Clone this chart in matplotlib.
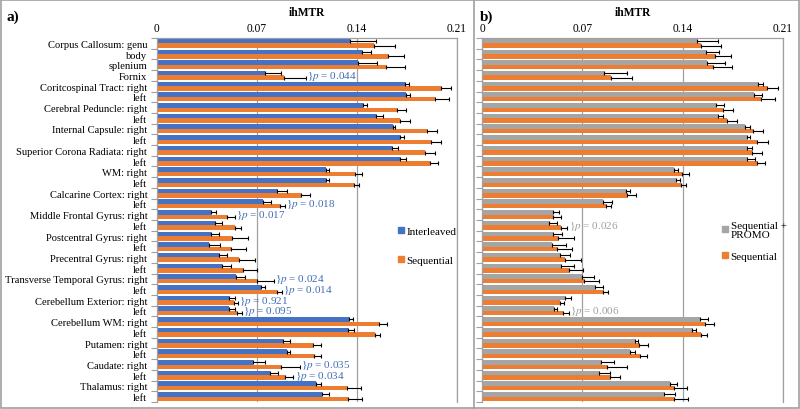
import numpy as np
import matplotlib.pyplot as plt
from matplotlib.patches import Rectangle
from matplotlib.lines import Line2D

plt.rcParams['font.family'] = ['Liberation Serif', 'DejaVu Serif']
plt.rcParams['mathtext.fontset'] = 'stix'

# region labels, top to bottom
regions = [
    'Corpus Callosum: genu', 'body', 'splenium', 'Fornix',
    'Coritcospinal Tract: right', 'left',
    'Cerebral Peduncle: right', 'left',
    'Internal Capsule: right', 'left',
    'Superior Corona Radiata: right', 'left',
    'WM: right', 'left',
    'Calcarine Cortex: right', 'left',
    'Middle Frontal Gyrus: right', 'left',
    'Postcentral Gyrus: right', 'left',
    'Precentral Gyrus: right', 'left',
    'Transverse Temporal Gyrus: right', 'left',
    'Cerebellum Exterior: right', 'left',
    'Cerebellum WM: right', 'left',
    'Putamen: right', 'left',
    'Caudate: right', 'left',
    'Thalamus: right', 'left',
]

# panel a) Interleaved vs Sequential
interleaved = [0.1349, 0.1433, 0.1410, 0.0758, 0.1736, 0.1745, 0.1444, 0.1533,
               0.1654, 0.1699, 0.1647, 0.1699, 0.1185, 0.1185, 0.0842, 0.0742,
               0.0376, 0.0404, 0.0376, 0.0366, 0.0436, 0.0455, 0.0551, 0.0726,
               0.0502, 0.0502, 0.1342, 0.1335, 0.0882, 0.0910, 0.0672, 0.0791,
               0.1113, 0.1153]
interleaved_err = [0.0187, 0.0068, 0.0133, 0.0107, 0.0028, 0.0026, 0.0028, 0.0051,
                   0.0014, 0.0033, 0.0042, 0.0044, 0.0019, 0.0019, 0.0070, 0.0054,
                   0.0040, 0.0051, 0.0058, 0.0075, 0.0051, 0.0065, 0.0068, 0.0030,
                   0.0042, 0.0042, 0.0033, 0.0044, 0.0049, 0.0021, 0.0082, 0.0058,
                   0.0035, 0.0051]
sequential_a = [0.1520, 0.1620, 0.1600, 0.0891, 0.1986, 0.1948, 0.1680, 0.1703,
                0.1892, 0.1916, 0.1878, 0.1913, 0.1388, 0.1379, 0.1010, 0.0859,
                0.0492, 0.0544, 0.0525, 0.0520, 0.0574, 0.0602, 0.0700, 0.0842,
                0.0539, 0.0560, 0.1552, 0.1524, 0.1090, 0.1099, 0.0870, 0.0894,
                0.1332, 0.1335]
sequential_a_err = [0.0145, 0.0112, 0.0135, 0.0149, 0.0075, 0.0093, 0.0065, 0.0070,
                    0.0068, 0.0070, 0.0065, 0.0054, 0.0044, 0.0037, 0.0058, 0.0035,
                    0.0056, 0.0047, 0.0114, 0.0100, 0.0112, 0.0096, 0.0117, 0.0035,
                    0.0028, 0.0035, 0.0061, 0.0037, 0.0056, 0.0047, 0.0131, 0.0061,
                    0.0096, 0.0098]
p_values_a = {3: '0.044', 15: '0.018', 16: '0.017', 22: '0.024', 23: '0.014',
              24: '0.921', 25: '0.095', 30: '0.035', 31: '0.034'}

# panel b) Sequential + PROMO vs Sequential
promo = [0.1500, 0.1563, 0.1573, 0.0849, 0.1927, 0.1899, 0.1636, 0.1647,
         0.1839, 0.1850, 0.1848, 0.1853, 0.1342, 0.1351, 0.1001, 0.0842,
         0.0492, 0.0469, 0.0492, 0.0488, 0.0544, 0.0551, 0.0695, 0.0791,
         0.0576, 0.0502, 0.1524, 0.1468, 0.1064, 0.1034, 0.0833, 0.0817,
         0.1314, 0.1272]
promo_err = [0.0147, 0.0093, 0.0121, 0.0159, 0.0037, 0.0056, 0.0051, 0.0033,
             0.0033, 0.0023, 0.0040, 0.0051, 0.0023, 0.0028, 0.0033, 0.0063,
             0.0042, 0.0051, 0.0068, 0.0096, 0.0070, 0.0093, 0.0089, 0.0056,
             0.0047, 0.0023, 0.0051, 0.0028, 0.0021, 0.0033, 0.0089, 0.0079,
             0.0049, 0.0075]
sequential_b = [0.1530, 0.1624, 0.1610, 0.0898, 0.1993, 0.1951, 0.1685, 0.1708,
                0.1895, 0.1920, 0.1883, 0.1920, 0.1398, 0.1386, 0.1013, 0.0863,
                0.0492, 0.0548, 0.0527, 0.0525, 0.0579, 0.0609, 0.0709, 0.0847,
                0.0544, 0.0567, 0.1556, 0.1528, 0.1094, 0.1104, 0.0875, 0.0894,
                0.1337, 0.1342]
sequential_b_err = [0.0138, 0.0114, 0.0135, 0.0145, 0.0075, 0.0098, 0.0068, 0.0072,
                    0.0070, 0.0075, 0.0070, 0.0056, 0.0047, 0.0035, 0.0061, 0.0040,
                    0.0061, 0.0047, 0.0114, 0.0100, 0.0112, 0.0093, 0.0110, 0.0035,
                    0.0026, 0.0037, 0.0065, 0.0040, 0.0063, 0.0049, 0.0135, 0.0070,
                    0.0093, 0.0098]
p_values_b = {17: '0.026', 25: '0.006'}

x_ticks = [0, 0.07, 0.14, 0.21]
x_tick_labels = ['0', '0.07', '0.14', '0.21']

BLUE = '#4472C4'
ORANGE = '#ED7D31'
GRAY = '#A5A5A5'
LINE = '#A0A0A0'


def draw_panel(ax, top_vals, top_err, bot_vals, bot_err, top_color,
               top_label, bot_label, pvals, pcolor, show_labels, legend_pos,
               legend_spacing):
    n = len(regions)
    y = np.arange(n)
    h = 0.42
    ekw = dict(ecolor='black', elinewidth=0.8, capsize=1.6, capthick=0.8)
    zeros = np.zeros(n)
    ax.barh(y - h / 2, top_vals, height=h, color=top_color,
            xerr=[zeros, top_err], error_kw=ekw, label=top_label, zorder=2)
    ax.barh(y + h / 2, bot_vals, height=h, color=ORANGE,
            xerr=[zeros, bot_err], error_kw=ekw, label=bot_label, zorder=2)

    for i, p in pvals.items():
        xe = max(top_vals[i] + top_err[i], bot_vals[i] + bot_err[i])
        ax.text(xe + 0.0008, i, r'}$\mathit{p}$ = ' + p, color=pcolor,
                fontsize=8, va='center', ha='left')

    ax.set_xlim(0, 0.21)
    ax.set_ylim(n - 0.5, -0.5)
    ax.xaxis.tick_top()
    ax.set_xticks(x_ticks)
    ax.set_xticklabels(x_tick_labels, fontsize=8.3)
    ax.xaxis.set_label_position('top')
    ax.set_xlabel('ihMTR', fontweight='bold', fontsize=8.3, labelpad=5)
    ax.tick_params(axis='x', length=0, pad=3)
    ax.grid(axis='x', color=LINE, linewidth=0.9, zorder=0)

    ax.set_yticks(y)
    if show_labels:
        ax.set_yticklabels(regions, fontsize=7.6)
    else:
        ax.set_yticklabels([])
    ax.set_yticks(np.arange(n + 1) - 0.5, minor=True)
    ax.tick_params(axis='y', which='major', length=0, pad=7)
    ax.tick_params(axis='y', which='minor', length=4, color=LINE, width=0.8)

    ax.spines['bottom'].set_visible(False)
    for s in ['top', 'left', 'right']:
        ax.spines[s].set_color(LINE)
        ax.spines[s].set_linewidth(0.9)

    handles = [Line2D([], [], marker='s', linestyle='none', markersize=4.5,
                      color=top_color),
               Line2D([], [], marker='s', linestyle='none', markersize=4.5,
                      color=ORANGE)]
    leg = ax.legend(handles, [top_label, bot_label], loc='upper left',
                    bbox_to_anchor=legend_pos, frameon=False, fontsize=8,
                    handletextpad=0.1, handlelength=0.8,
                    labelspacing=legend_spacing)
    for t in leg.get_texts():
        t.set_linespacing(0.95)


fig = plt.figure(figsize=(8, 4.1), dpi=100)
ax_a = fig.add_axes([0.19625, 0.0171, 0.375, 0.8878])
ax_b = fig.add_axes([0.6029, 0.0171, 0.3755, 0.8878])

draw_panel(ax_a, interleaved, interleaved_err, sequential_a, sequential_a_err,
           BLUE, 'Interleaved', 'Sequential', p_values_a, '#3F6FB5', True,
           (0.765, 0.51), 1.7)
draw_panel(ax_b, promo, promo_err, sequential_b, sequential_b_err,
           GRAY, 'Sequential +\nPROMO', 'Sequential', p_values_b, '#A0A0A0',
           False, (0.76, 0.525), 1.1)

fig.text(0.008, 0.975, 'a)', fontweight='bold', fontsize=11, va='top')
fig.text(0.6, 0.975, 'b)', fontweight='bold', fontsize=11, va='top')

fig.add_artist(Rectangle((0.001, 0.002), 0.998, 0.996, transform=fig.transFigure,
                         fill=False, edgecolor=LINE, linewidth=1.2))
fig.add_artist(Line2D([0.5925, 0.5925], [0, 1], transform=fig.transFigure,
                      color=LINE, linewidth=1.2))

fig.savefig('out.png', dpi=100)
